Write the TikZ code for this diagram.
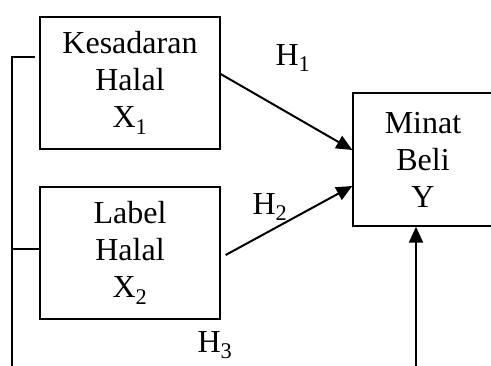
\documentclass[tikz,border=0pt]{standalone}
\usepackage{fontspec}
\setmainfont{Liberation Serif}
\usetikzlibrary{arrows.meta, positioning}

\begin{document}
\begin{tikzpicture}[x=1pt, y=-1pt, >={Triangle[length=16pt,width=14pt]},
		font=\fontsize{32}{37}\selectfont,
		varbox/.style={draw, line width=1.3pt, align=center, inner sep=0pt},
		hlabel/.style={inner sep=0pt}]
		
		% --- area gambar
		\useasboundingbox (0,0) rectangle (491,365);
		\clip (0,0) rectangle (491,365);
		
		% --- variabel X (kotak di kiri)
		\node[varbox, minimum width=180pt, minimum height=132pt] (x1) at (130,83) {Kesadaran\\Halal\\X\textsubscript{1}};
		\node[varbox, minimum width=180pt, minimum height=132pt] (x2) at (130,253) {Label\\Halal\\X\textsubscript{2}};
		
		% --- variabel Y (kotak di kanan)
		\node[varbox, minimum width=140pt, minimum height=133pt] (y) at (423,159.5) {Minat\\Beli\\Y};
		
		% Garis penghubung di kiri
		\coordinate (kiri1) at (12,57);
		\coordinate (kiri2) at (12,249);
		\coordinate (kiribawah) at (12,370);
		\draw[line width=1.5pt] ([xshift=-4pt,yshift=26pt]x1.west) -- (kiri1) -- (kiribawah);
		\draw[line width=1.3pt] ([yshift=4pt]x2.west) -- (kiri2);
		
		% --- hipotesis (panah)
		\draw[->, line width=2pt] ([yshift=9pt]x1.east) -- ([yshift=9.5pt]y.west);
		\draw[->, line width=2pt] ([xshift=5pt,yshift=-2pt]x2.east) -- ([yshift=-26.5pt]y.west);
		
		\coordinate (kananbawah) at (416,370);
		\draw[->, line width=2pt] (kananbawah) -- ([xshift=-7pt]y.south);
		
		% Label H
		\node[hlabel] (h1) at (293,58) {H\textsubscript{1}};
		\node[hlabel] (h2) at (270,207) {H\textsubscript{2}};
		\node[hlabel] (h3) at (215,345) {H\textsubscript{3}};
		
	\end{tikzpicture}
\end{document}
